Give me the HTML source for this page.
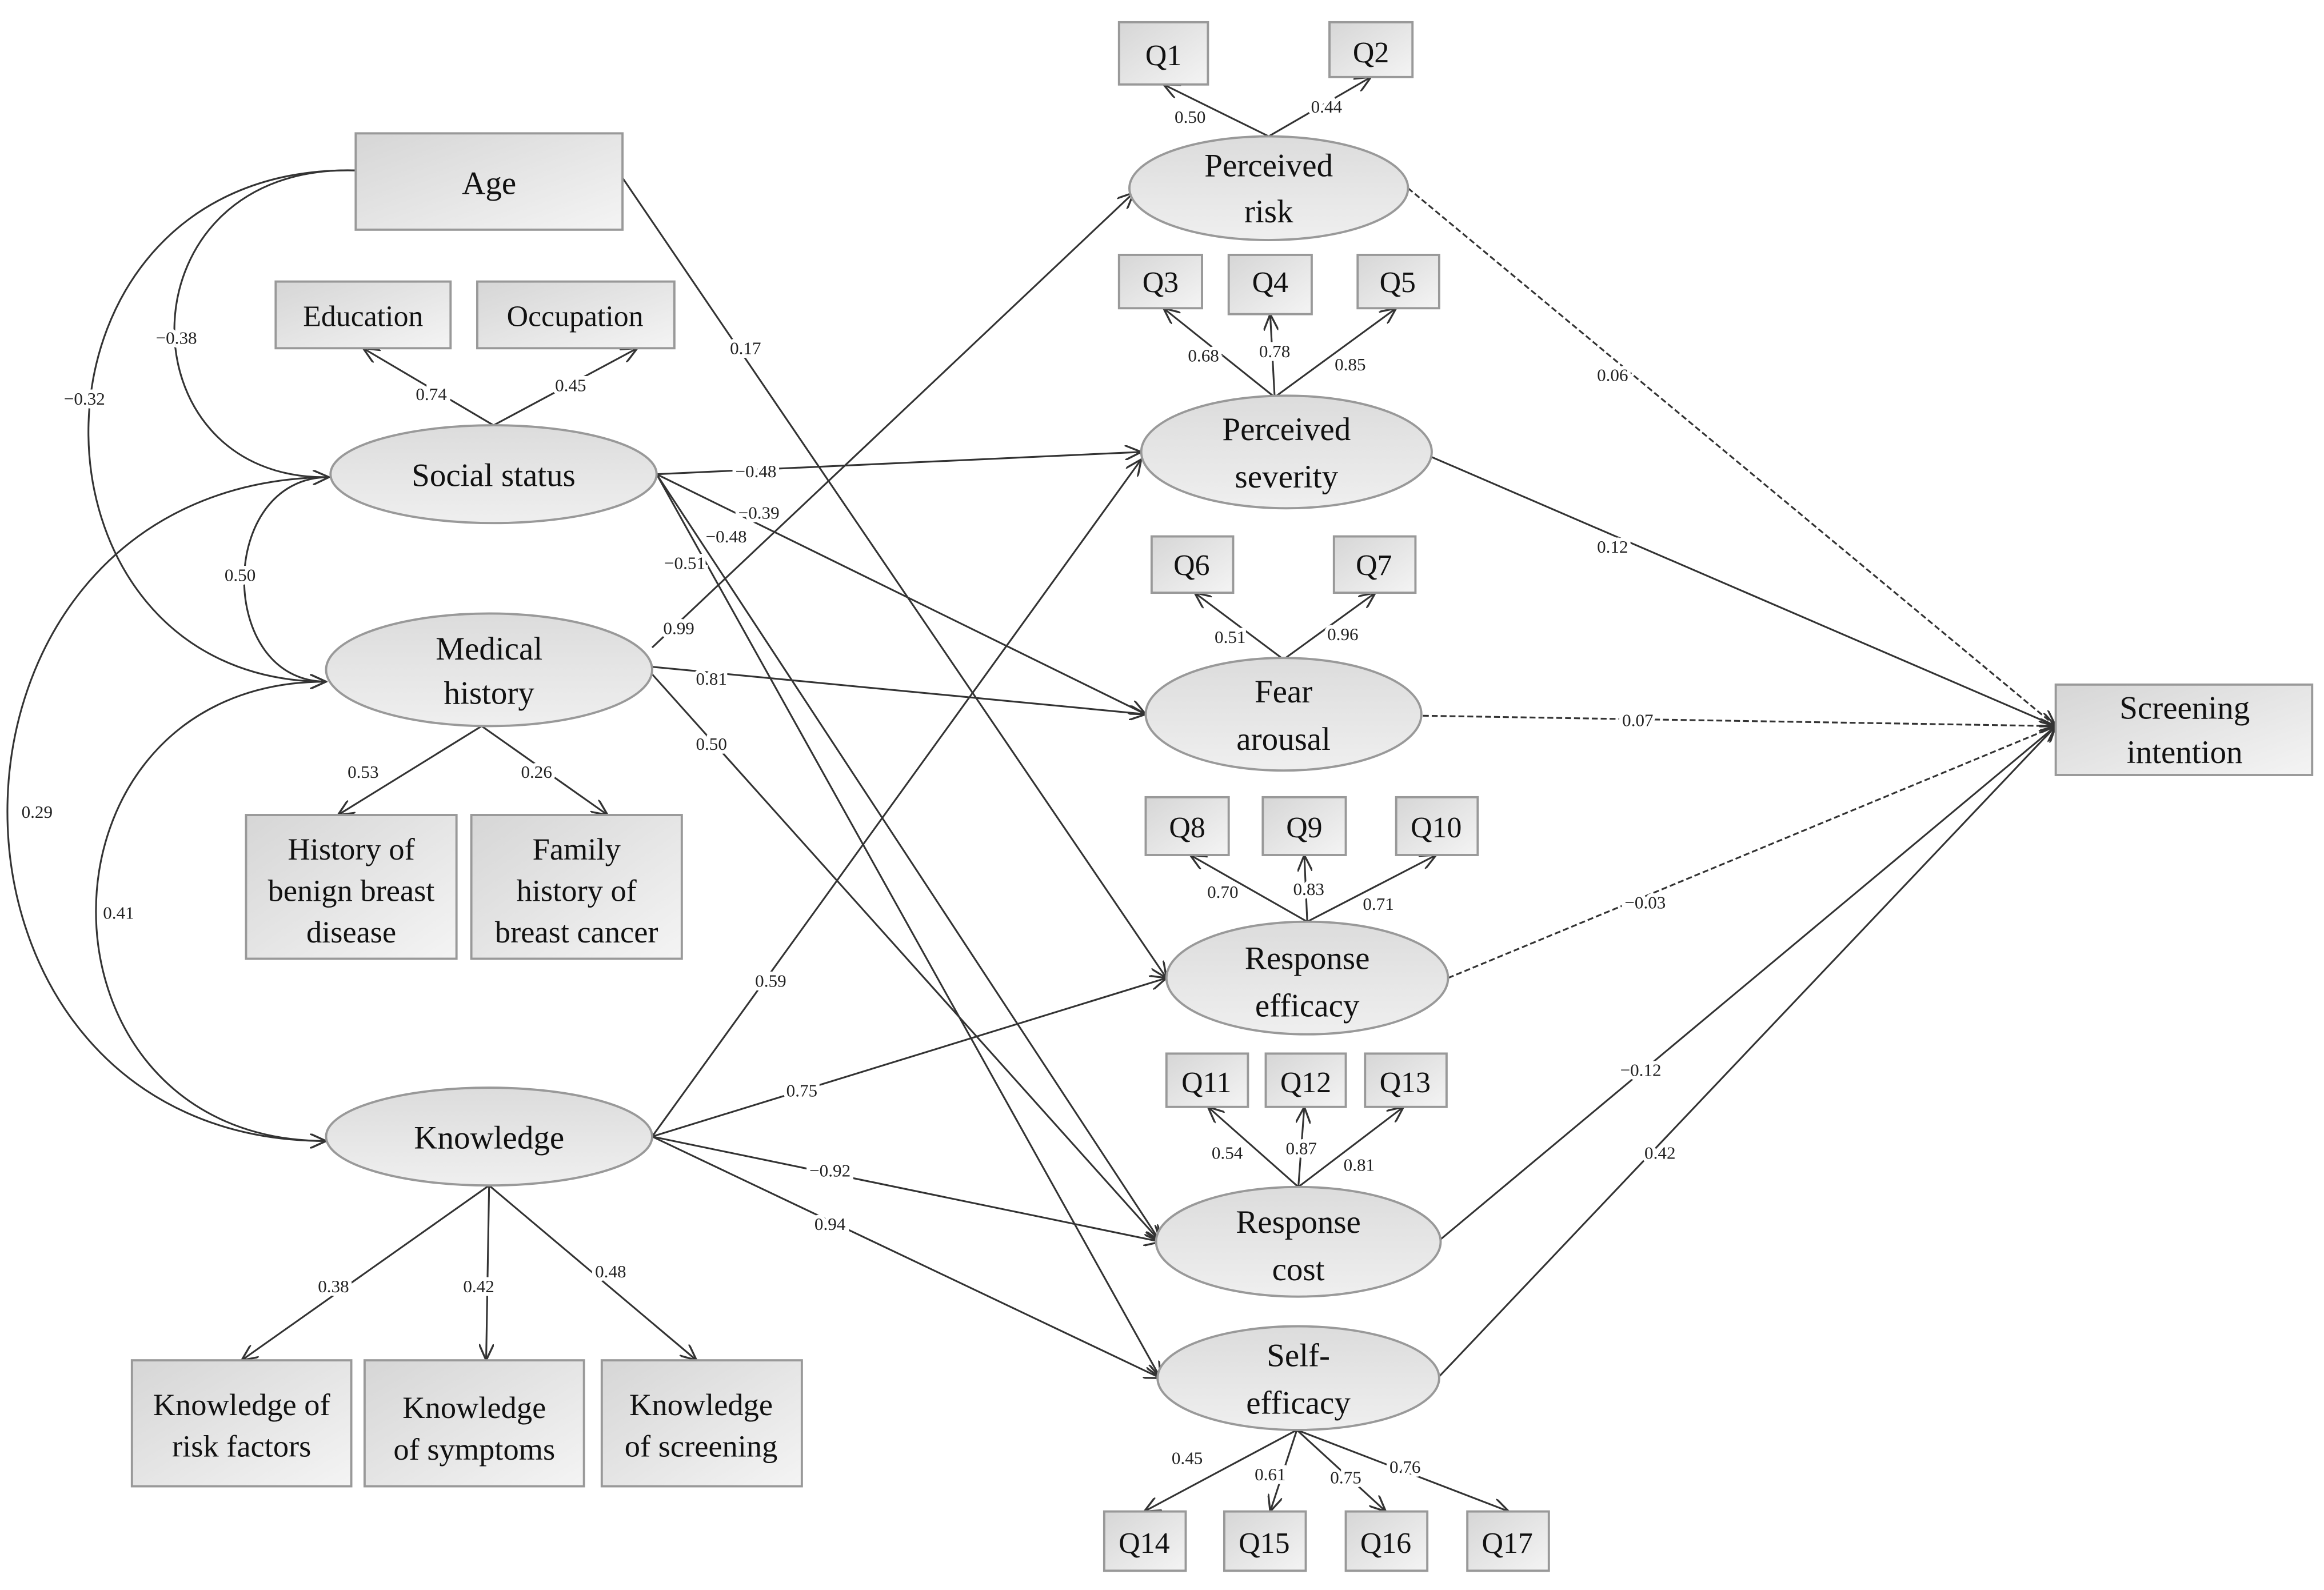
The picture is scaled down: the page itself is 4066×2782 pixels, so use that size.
<!DOCTYPE html>
<html><head><meta charset="utf-8"><style>html,body{margin:0;padding:0;background:#fff;}svg{display:block;}</style></head>
<body>
<svg width="4066" height="2782" viewBox="0 0 1568 1073" preserveAspectRatio="none" xmlns="http://www.w3.org/2000/svg" font-family="'Liberation Serif', serif">
<defs>
<linearGradient id="g" x1="0" y1="0" x2="1" y2="1"><stop offset="0" stop-color="#d6d6d6"/><stop offset="1" stop-color="#f4f4f4"/></linearGradient>
<linearGradient id="ge" x1="0" y1="0" x2="0" y2="1"><stop offset="0" stop-color="#dcdcdc"/><stop offset="1" stop-color="#efefef"/></linearGradient>
<marker id="a" markerWidth="12" markerHeight="10" refX="11" refY="5" orient="auto" markerUnits="userSpaceOnUse"><path d="M0,0 L11,5 L0,10" fill="none" stroke="#333" stroke-width="1.3"/></marker>
</defs>
<g fill="none" stroke="#333" stroke-width="1.2" marker-end="url(#a)">
<!-- covariances -->
<path d="M240,115 C80,110 80,325 222,322"/>
<path d="M240,115 C3,110 3,460 220,460"/>
<path d="M222,322 C146,322 146,460 220,460"/>
<path d="M222,322 C-67,325 -67,770 220,770"/>
<path d="M220,460 C13,460 13,770 220,770"/>
<!-- structural -->
<path d="M420,120 L787,660"/>
<path d="M443,320 L770,305"/>
<path d="M443,320 L773,482"/>
<path d="M443,320 L783,838"/>
<path d="M443,320 L783,930"/>
<path d="M440,437 L765,130"/>
<path d="M440,450 L773,482"/>
<path d="M440,455 L783,838"/>
<path d="M440,767 L770,310"/>
<path d="M440,767 L787,660"/>
<path d="M440,767 L783,838"/>
<path d="M440,767 L783,930"/>
<path d="M950,127 L1387,490" stroke-dasharray="4,2"/>
<path d="M958,305 L1387,490"/>
<path d="M960,483 L1387,490" stroke-dasharray="4,2"/>
<path d="M977,660 L1387,490" stroke-dasharray="4,2"/>
<path d="M970,838 L1387,490"/>
<path d="M970,930 L1387,490"/>
<!-- loadings -->
<path d="M333,287 L245,235"/><path d="M333,287 L430,235"/>
<path d="M325,490 L228,550"/><path d="M325,490 L410,550"/>
<path d="M330,800 L163,918"/><path d="M330,800 L328,918"/><path d="M330,800 L470,918"/>
<path d="M856,92 L785,57"/><path d="M856,92 L925,52"/>
<path d="M860,268 L785,208"/><path d="M860,268 L857,212"/><path d="M860,268 L942,208"/>
<path d="M866,445 L806,400"/><path d="M866,445 L928,400"/>
<path d="M882,622 L803,577"/><path d="M882,622 L880,577"/><path d="M882,622 L969,577"/>
<path d="M876,801 L815,747"/><path d="M876,801 L880,747"/><path d="M876,801 L947,747"/>
<path d="M875,965 L772,1020"/><path d="M875,965 L857,1020"/><path d="M875,965 L935,1020"/><path d="M875,965 L1018,1020"/>
</g>
<!-- boxes -->
<g fill="url(#g)" stroke="#999" stroke-width="1.5">
<rect x="240" y="90" width="180" height="65"/>
<rect x="186" y="190" width="118" height="45"/><rect x="322" y="190" width="133" height="45"/>
<rect x="166" y="550" width="142" height="97"/><rect x="318" y="550" width="142" height="97"/>
<rect x="89" y="918" width="148" height="85"/><rect x="246" y="918" width="148" height="85"/><rect x="406" y="918" width="135" height="85"/>
<rect x="755" y="15" width="60" height="42"/><rect x="897" y="15" width="56" height="37"/>
<rect x="755" y="172" width="56" height="36"/><rect x="829" y="172" width="56" height="40"/><rect x="916" y="172" width="55" height="36"/>
<rect x="777" y="362" width="55" height="38"/><rect x="900" y="362" width="55" height="38"/>
<rect x="773" y="538" width="56" height="39"/><rect x="852" y="538" width="56" height="39"/><rect x="942" y="538" width="55" height="39"/>
<rect x="787" y="711" width="55" height="36"/><rect x="854" y="711" width="54" height="36"/><rect x="921" y="711" width="55" height="36"/>
<rect x="745" y="1020" width="55" height="40"/><rect x="826" y="1020" width="55" height="40"/><rect x="908" y="1020" width="55" height="40"/><rect x="990" y="1020" width="55" height="40"/>
<rect x="1387" y="462" width="173" height="61"/>
</g>
<g fill="url(#ge)" stroke="#999" stroke-width="1.5">
<ellipse cx="333" cy="320" rx="110" ry="33"/>
<ellipse cx="330" cy="452" rx="110" ry="38"/>
<ellipse cx="330" cy="767" rx="110" ry="33"/>
<ellipse cx="856" cy="127" rx="94" ry="35"/>
<ellipse cx="868" cy="305" rx="98" ry="38"/>
<ellipse cx="866" cy="482" rx="93" ry="38"/>
<ellipse cx="882" cy="660" rx="95" ry="38"/>
<ellipse cx="876" cy="838" rx="96" ry="37"/>
<ellipse cx="876" cy="930" rx="95" ry="35"/>
</g>
<g font-size="22" fill="#111" text-anchor="middle">
<text x="330" y="131">Age</text>
<text x="245" y="220" font-size="20">Education</text><text x="388" y="220" font-size="20">Occupation</text>
<text x="333" y="328">Social status</text>
<text x="330" y="445">Medical</text><text x="330" y="475">history</text>
<text x="237" y="580" font-size="21">History of</text><text x="237" y="608" font-size="21">benign breast</text><text x="237" y="636" font-size="21">disease</text>
<text x="389" y="580" font-size="21">Family</text><text x="389" y="608" font-size="21">history of</text><text x="389" y="636" font-size="21">breast cancer</text>
<text x="330" y="775">Knowledge</text>
<text x="163" y="955" font-size="21">Knowledge of</text><text x="163" y="983" font-size="21">risk factors</text>
<text x="320" y="957" font-size="21">Knowledge</text><text x="320" y="985" font-size="21">of symptoms</text>
<text x="473" y="955" font-size="21">Knowledge</text><text x="473" y="983" font-size="21">of screening</text>
<text x="856" y="119">Perceived</text><text x="856" y="150">risk</text>
<text x="868" y="297">Perceived</text><text x="868" y="329">severity</text>
<text x="866" y="474">Fear</text><text x="866" y="506">arousal</text>
<text x="882" y="654">Response</text><text x="882" y="686">efficacy</text>
<text x="876" y="832">Response</text><text x="876" y="864">cost</text>
<text x="876" y="922">Self-</text><text x="876" y="954">efficacy</text>
<text x="1474" y="485">Screening</text><text x="1474" y="515">intention</text>
<g font-size="20">
<text x="785" y="44">Q1</text><text x="925" y="42">Q2</text>
<text x="783" y="197">Q3</text><text x="857" y="197">Q4</text><text x="943" y="197">Q5</text>
<text x="804" y="388">Q6</text><text x="927" y="388">Q7</text>
<text x="801" y="565">Q8</text><text x="880" y="565">Q9</text><text x="969" y="565">Q10</text>
<text x="814" y="737">Q11</text><text x="881" y="737">Q12</text><text x="948" y="737">Q13</text>
<text x="772" y="1048">Q14</text><text x="853" y="1048">Q15</text><text x="935" y="1048">Q16</text><text x="1017" y="1048">Q17</text>
</g>
</g>
<g font-size="12" fill="#222" text-anchor="middle" stroke="#fff" stroke-width="5" paint-order="stroke">
<text x="119" y="232">−0.38</text><text x="57" y="273">−0.32</text><text x="162" y="392">0.50</text>
<text x="25" y="552">0.29</text><text x="80" y="620">0.41</text>
<text x="503" y="239">0.17</text>
<text x="510" y="322">−0.48</text><text x="512" y="350">−0.39</text><text x="490" y="366">−0.48</text><text x="462" y="384">−0.51</text>
<text x="458" y="428">0.99</text><text x="480" y="462">0.81</text><text x="480" y="506">0.50</text>
<text x="520" y="666">0.59</text><text x="541" y="740">0.75</text><text x="560" y="794">−0.92</text><text x="560" y="830">0.94</text>
<text x="1088" y="257">0.06</text><text x="1088" y="373">0.12</text><text x="1105" y="490">0.07</text><text x="1110" y="613">−0.03</text><text x="1107" y="726">−0.12</text><text x="1120" y="782">0.42</text>
<text x="291" y="270">0.74</text><text x="385" y="264">0.45</text>
<text x="245" y="525">0.53</text><text x="362" y="525">0.26</text>
<text x="225" y="872">0.38</text><text x="323" y="872">0.42</text><text x="412" y="862">0.48</text>
<text x="803" y="83">0.50</text><text x="895" y="76">0.44</text>
<text x="812" y="244">0.68</text><text x="860" y="241">0.78</text><text x="911" y="250">0.85</text>
<text x="830" y="434">0.51</text><text x="906" y="432">0.96</text>
<text x="825" y="606">0.70</text><text x="883" y="604">0.83</text><text x="930" y="614">0.71</text>
<text x="828" y="782">0.54</text><text x="878" y="779">0.87</text><text x="917" y="790">0.81</text>
<text x="801" y="988">0.45</text><text x="857" y="999">0.61</text><text x="908" y="1001">0.75</text><text x="948" y="994">0.76</text>
</g>
</svg>
</body></html>
